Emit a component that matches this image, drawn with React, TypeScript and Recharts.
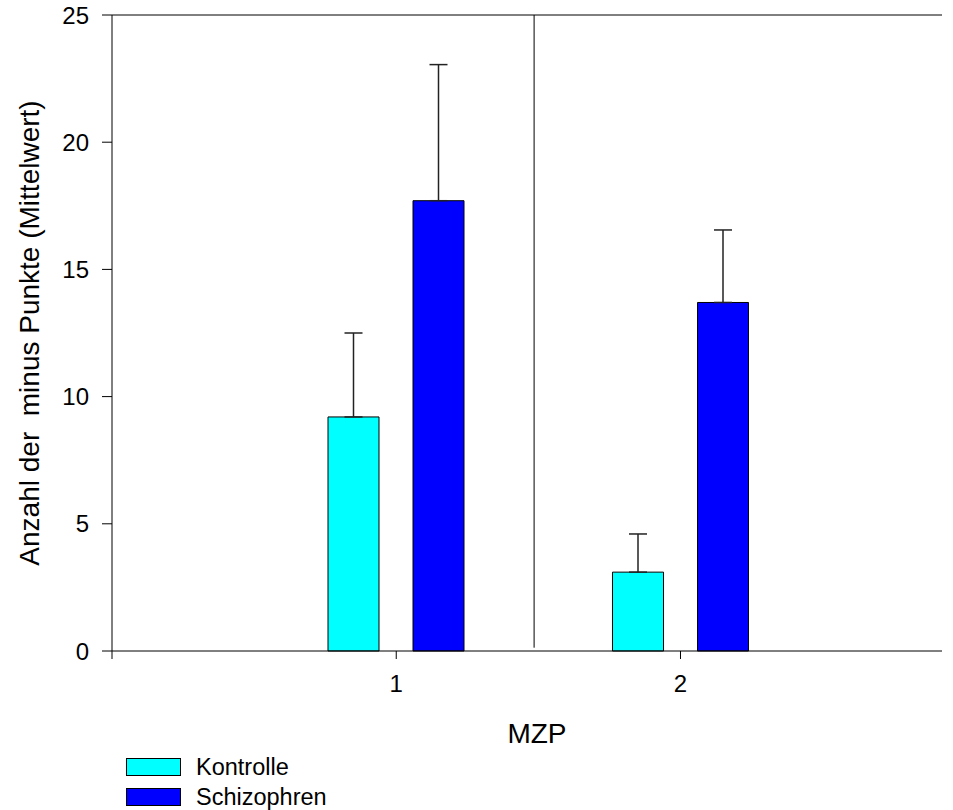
import React from 'react';
import { BarChart, Bar, XAxis, YAxis, ErrorBar, ReferenceLine } from 'recharts';

const FONT = '"Liberation Sans", Arial, Helvetica, sans-serif';

// Measurement points (MZP) and group means with their standard errors
const categories = ['1', '2'];
const positions = [1, 2];
const kontrolle = [9.2, 3.1];
const kontrolleErr = [3.3, 1.5];
const schizophren = [17.7, 13.7];
const schizophrenErr = [5.35, 2.85];

const yTicks = [0, 5, 10, 15, 20, 25];
const xTicks = [0, 1, 2];
const xDomain = [0, 2.92];
const groupDivider = 1.485;

const yTitle = 'Anzahl der\u00A0 minus Punkte (Mittelwert)';
const xTitle = 'MZP';

const series = [
  { key: 'kontrolle', errKey: 'kontrolleErr', name: 'Kontrolle', color: '#00FFFF' },
  { key: 'schizophren', errKey: 'schizophrenErr', name: 'Schizophren', color: '#0000FF' },
];

const data = categories.map((mzp, i) => ({
  mzp,
  pos: positions[i],
  kontrolle: kontrolle[i],
  kontrolleErr: [0, kontrolleErr[i]],
  schizophren: schizophren[i],
  schizophrenErr: [0, schizophrenErr[i]],
}));

function LegendBox() {
  return (
    <div style={{ position: 'absolute', left: 126, top: 752, fontFamily: FONT }}>
      {series.map((s) => (
        <div key={s.key} style={{ display: 'flex', alignItems: 'center', height: 30 }}>
          <svg width={56} height={19} style={{ display: 'block' }}>
            <rect x={0.5} y={0.5} width={54} height={17} fill={s.color} stroke="#000" strokeWidth={1} />
          </svg>
          <span style={{ marginLeft: 14, fontSize: 23.5, color: '#000', lineHeight: '24px' }}>{s.name}</span>
        </div>
      ))}
    </div>
  );
}

export default function App() {
  return (
    <div style={{ position: 'absolute', left: 0, top: 0, width: 953, height: 810, background: '#fff' }}>
      <BarChart
        width={953}
        height={810}
        data={data}
        margin={{ top: 15, right: 11, bottom: 99, left: 0 }}
        barGap={34}
        barSize={51}
      >
        <XAxis xAxisId="cat" dataKey="mzp" hide height={0} padding={{ left: 142, right: 119 }} />
        <XAxis
          xAxisId="num"
          dataKey="pos"
          type="number"
          domain={xDomain}
          ticks={xTicks}
          interval={0}
          allowDataOverflow
          tickFormatter={(v: number) => (v === 0 ? '' : String(v))}
          height={60}
          tickSize={8}
          tickMargin={16}
          stroke="#000"
          axisLine={{ stroke: '#000' }}
          tickLine={{ stroke: '#000' }}
          tick={{ fill: '#000', fontSize: 24, fontFamily: FONT }}
          label={{ value: xTitle, position: 'bottom', offset: 12, dx: 10, fill: '#000', fontSize: 28, fontFamily: FONT }}
        />
        <YAxis
          domain={[0, 25]}
          ticks={yTicks}
          width={112}
          tickSize={10}
          tickMargin={13}
          stroke="#000"
          axisLine={{ stroke: '#000' }}
          tickLine={{ stroke: '#000' }}
          tick={{ fill: '#000', fontSize: 24, fontFamily: FONT }}
          label={{
            value: yTitle,
            angle: -90,
            position: 'insideLeft',
            offset: 29,
            fill: '#000',
            fontSize: 28,
            fontFamily: FONT,
            style: { textAnchor: 'middle' },
          }}
        />
        <ReferenceLine xAxisId="num" y={25} stroke="#000" strokeWidth={1} />
        <ReferenceLine
          xAxisId="num"
          stroke="#000"
          strokeWidth={1}
          segment={[
            { x: groupDivider, y: 0.13 },
            { x: groupDivider, y: 25 },
          ]}
        />
        {series.map((s) => (
          <Bar
            key={s.key}
            xAxisId="cat"
            dataKey={s.key}
            name={s.name}
            fill={s.color}
            stroke="#000"
            strokeWidth={1}
            isAnimationActive={false}
          >
            <ErrorBar dataKey={s.errKey} direction="y" width={9} stroke="#222" strokeWidth={1.5} />
          </Bar>
        ))}
      </BarChart>
      <LegendBox />
    </div>
  );
}
